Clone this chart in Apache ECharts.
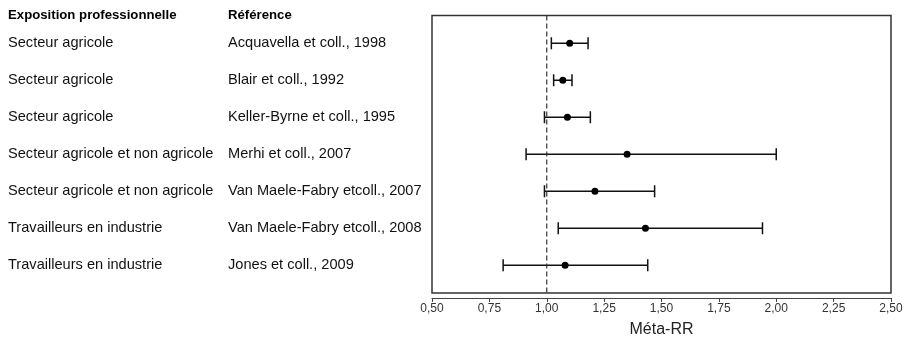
<!DOCTYPE html>
<html><head><meta charset="utf-8">
<script src="https://cdn.jsdelivr.net/npm/echarts@6/dist/echarts.min.js"></script>
<style>html,body{margin:0;padding:0;background:#fff}#c{width:906px;height:338px}</style>
</head><body><div id="c"></div>
<script>
const expositions = ["Secteur agricole","Secteur agricole","Secteur agricole","Secteur agricole et non agricole","Secteur agricole et non agricole","Travailleurs en industrie","Travailleurs en industrie"];
const references = ["Acquavella et coll., 1998","Blair et coll., 1992","Keller-Byrne et coll., 1995","Merhi et coll., 2007","Van Maele-Fabry etcoll., 2007","Van Maele-Fabry etcoll., 2008","Jones et coll., 2009"];
const rr = [1.10, 1.07, 1.09, 1.35, 1.21, 1.43, 1.08];
const lower = [1.02, 1.03, 0.99, 0.91, 0.99, 1.05, 0.81];
const upper = [1.18, 1.11, 1.19, 2.00, 1.47, 1.94, 1.44];
const headers = ["Exposition professionnelle", "Référence"];
const xTicks = [0.5, 0.75, 1.0, 1.25, 1.5, 1.75, 2.0, 2.25, 2.5];
const refLine = 1.0;

const chart = echarts.init(document.getElementById('c'), null, {renderer:'canvas'});
const rows = rr.map((v,i)=>i+1);
const font = '"Liberation Sans", Arial, sans-serif';

chart.setOption({
  animation:false,
  grid:{left:432, right:15, top:15.5, bottom:45, containLabel:false, outerBoundsMode:'none',
        show:true, borderColor:'#333', borderWidth:1.5, backgroundColor:'transparent'},
  xAxis:{type:'value', min:xTicks[0], max:xTicks[xTicks.length-1], interval:0.25, offset:5,
    axisLine:{show:true, lineStyle:{color:'#444', width:1.2}},
    axisTick:{show:true, length:4, lineStyle:{color:'#444'}},
    splitLine:{show:false},
    axisLabel:{color:'#333', fontSize:12, fontFamily:font, margin:5, formatter:v=>v.toFixed(2).replace('.', ',')},
    name:'Méta-RR', nameLocation:'middle', nameGap:24, nameTextStyle:{color:'#222', fontSize:16, fontFamily:font}
  },
  yAxis:{type:'value', min:0.25, max:7.75, inverse:true, show:false},
  series:[
    {type:'line', data:[[refLine,0.25],[refLine,7.75]], symbol:'none', silent:true,
     lineStyle:{color:'#333', width:1.2, type:[5,3]}},
    {type:'custom', data:rows.map((r,i)=>[lower[i], upper[i], r]), clip:false,
     renderItem:(params, api)=>{
       const a = api.coord([api.value(0), api.value(2)]);
       const b = api.coord([api.value(1), api.value(2)]);
       const h = 6;
       const st = {stroke:'#111', lineWidth:1.5};
       return {type:'group', children:[
         {type:'line', shape:{x1:a[0], y1:a[1], x2:b[0], y2:b[1]}, style:st},
         {type:'line', shape:{x1:a[0], y1:a[1]-h, x2:a[0], y2:a[1]+h}, style:st},
         {type:'line', shape:{x1:b[0], y1:b[1]-h, x2:b[0], y2:b[1]+h}, style:st}
       ]};
     }},
    {type:'scatter', data:rows.map((r,i)=>[rr[i], r]), symbol:'circle', symbolSize:7,
     itemStyle:{color:'#000', opacity:1}},
    {type:'custom', clip:false, silent:true,
     data:rows.map((r,i)=>[r, i]).concat([[0.25, -1]]),
     renderItem:(params, api)=>{
       const y = api.coord([0.5, api.value(0)])[1];
       const idx = api.value(1);
       if (idx < 0) {
         return {type:'group', children:[
           {type:'text', x:8, y:y, style:{text:headers[0], font:'bold 13.2px '+font, fill:'#000', textVerticalAlign:'middle', textAlign:'left'}},
           {type:'text', x:228, y:y, style:{text:headers[1], font:'bold 13.2px '+font, fill:'#000', textVerticalAlign:'middle', textAlign:'left'}}
         ]};
       }
       return {type:'group', children:[
         {type:'text', x:8, y:y, style:{text:expositions[idx], font:'14.6px '+font, fill:'#111', textVerticalAlign:'middle', textAlign:'left'}},
         {type:'text', x:228, y:y, style:{text:references[idx], font:'14.6px '+font, fill:'#111', textVerticalAlign:'middle', textAlign:'left'}}
       ]};
     }}
  ]
});
</script></body></html>
